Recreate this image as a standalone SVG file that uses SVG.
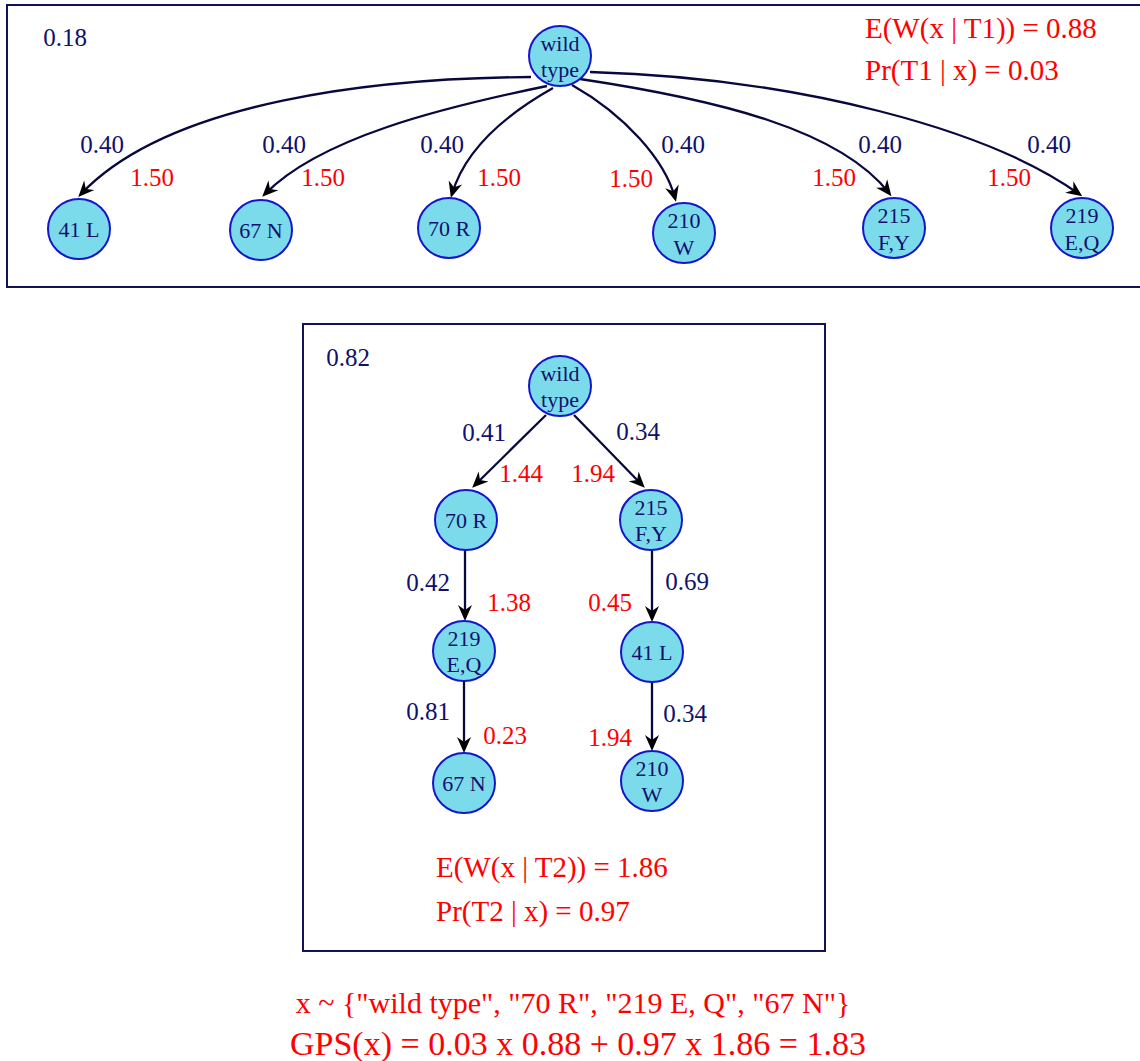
<svg xmlns="http://www.w3.org/2000/svg" width="1140" height="1061" viewBox="0 0 1140 1061">
<style>
text{font-family:"Liberation Serif","Times New Roman",serif;dominant-baseline:central;text-anchor:middle}
.box{fill:none;stroke:#12125a;stroke-width:2}
.node{fill:#7cdbeb;stroke:#1515cc;stroke-width:2}
.nt{font-size:22px;fill:#10106e}
.lb{font-size:25px;fill:#10106e}
.rd{font-size:25px;fill:#ff0000}
.big{font-size:29px;fill:#ff0000;text-anchor:start}
.edge{fill:none;stroke:#08083e;stroke-width:2.3}
</style>
<defs>
<marker id="ah" markerUnits="userSpaceOnUse" markerWidth="18" markerHeight="16" refX="12" refY="7" orient="auto" overflow="visible">
<path d="M0,0 L16,7 L0,14 L5,7 z" fill="#000"/>
</marker>
</defs>
<rect class="box" x="7" y="5" width="1140" height="282"/>
<rect class="box" x="303" y="324" width="522" height="627"/>
<text class="lb" x="65" y="37">0.18</text>
<text class="big" x="865" y="28">E(W(x | T1)) = 0.88</text>
<text class="big" x="865" y="70">Pr(T1 | x) = 0.03</text>
<text class="lb" x="348" y="357">0.82</text>
<text class="big" x="436" y="867">E(W(x | T2)) = 1.86</text>
<text class="big" x="436" y="911">Pr(T2 | x) = 0.97</text>
<text x="573" y="1002" style="font-size:30px;fill:#ff0000">x ~ {"wild type", "70 R", "219 E, Q", "67 N"}</text>
<text x="578" y="1043" style="font-size:34px;fill:#ff0000">GPS(x) = 0.03 x 0.88 + 0.97 x 1.86 = 1.83</text>
<g id="connectors">
<path class="edge" marker-end="url(#ah)" d="M531,77 C380,78 170,100 81,194"/>
<path class="edge" marker-end="url(#ah)" d="M547,86 C440,108 320,138 265,194"/>
<path class="edge" marker-end="url(#ah)" d="M553,88 C505,115 465,150 452,194"/>
<path class="edge" marker-end="url(#ah)" d="M572,85 C625,115 665,160 675,198"/>
<path class="edge" marker-end="url(#ah)" d="M580,79 C720,100 840,130 889,193"/>
<path class="edge" marker-end="url(#ah)" d="M590,72 C800,78 990,130 1079,194"/>
<text class="lb" x="102" y="144">0.40</text><text class="rd" x="152" y="177">1.50</text>
<text class="lb" x="284" y="144">0.40</text><text class="rd" x="323" y="177">1.50</text>
<text class="lb" x="442" y="144">0.40</text><text class="rd" x="499" y="177">1.50</text>
<text class="lb" x="683" y="144">0.40</text><text class="rd" x="631" y="178">1.50</text>
<text class="lb" x="880" y="144">0.40</text><text class="rd" x="834" y="177">1.50</text>
<text class="lb" x="1049" y="144">0.40</text><text class="rd" x="1009" y="177">1.50</text>
<path class="edge" marker-end="url(#ah)" d="M546,415 L475,485"/>
<path class="edge" marker-end="url(#ah)" d="M574,415 L642,485"/>
<path class="edge" marker-end="url(#ah)" d="M465,550 L465,617"/>
<path class="edge" marker-end="url(#ah)" d="M652,550 L652,618"/>
<path class="edge" marker-end="url(#ah)" d="M464,681 L464,749"/>
<path class="edge" marker-end="url(#ah)" d="M652,682 L652,747"/>
<text class="lb" x="484" y="432">0.41</text><text class="rd" x="521" y="473">1.44</text>
<text class="lb" x="638" y="431">0.34</text><text class="rd" x="593" y="473">1.94</text>
<text class="lb" x="428" y="582">0.42</text><text class="rd" x="509" y="602">1.38</text>
<text class="lb" x="687" y="581">0.69</text><text class="rd" x="610" y="602">0.45</text>
<text class="lb" x="428" y="711">0.81</text><text class="rd" x="505" y="735">0.23</text>
<text class="lb" x="685" y="713">0.34</text><text class="rd" x="610" y="737">1.94</text>
</g>
<g id="t1-wild"><ellipse class="node" cx="560" cy="56" rx="31" ry="30"/><text class="nt" x="560" y="43">wild</text><text class="nt" x="560" y="69">type</text></g>
<g id="t1-41L"><ellipse class="node" cx="79" cy="229" rx="31" ry="30"/><text class="nt" x="79" y="229">41 L</text></g>
<g id="t1-67N"><ellipse class="node" cx="261" cy="230" rx="31" ry="30"/><text class="nt" x="261" y="230">67 N</text></g>
<g id="t1-70R"><ellipse class="node" cx="449" cy="228" rx="31" ry="30"/><text class="nt" x="449" y="228">70 R</text></g>
<g id="t1-210W"><ellipse class="node" cx="684" cy="233" rx="31" ry="30"/><text class="nt" x="684" y="220">210</text><text class="nt" x="684" y="247">W</text></g>
<g id="t1-215FY"><ellipse class="node" cx="894" cy="228" rx="31" ry="30"/><text class="nt" x="894" y="215">215</text><text class="nt" x="894" y="242">F,Y</text></g>
<g id="t1-219EQ"><ellipse class="node" cx="1082" cy="228" rx="31" ry="30"/><text class="nt" x="1082" y="215">219</text><text class="nt" x="1082" y="242">E,Q</text></g>
<g id="t2-wild"><ellipse class="node" cx="560" cy="386" rx="31" ry="30"/><text class="nt" x="560" y="373">wild</text><text class="nt" x="560" y="399">type</text></g>
<g id="t2-70R"><ellipse class="node" cx="466" cy="520" rx="31" ry="30"/><text class="nt" x="466" y="520">70 R</text></g>
<g id="t2-215FY"><ellipse class="node" cx="651" cy="520" rx="31" ry="30"/><text class="nt" x="651" y="507">215</text><text class="nt" x="651" y="533">F,Y</text></g>
<g id="t2-219EQ"><ellipse class="node" cx="464" cy="651" rx="31" ry="30"/><text class="nt" x="464" y="638">219</text><text class="nt" x="464" y="664">E,Q</text></g>
<g id="t2-41L"><ellipse class="node" cx="652" cy="652" rx="31" ry="30"/><text class="nt" x="652" y="652">41 L</text></g>
<g id="t2-67N"><ellipse class="node" cx="464" cy="783" rx="31" ry="30"/><text class="nt" x="464" y="783">67 N</text></g>
<g id="t2-210W"><ellipse class="node" cx="652" cy="781" rx="31" ry="30"/><text class="nt" x="652" y="768">210</text><text class="nt" x="652" y="794">W</text></g>
</svg>
